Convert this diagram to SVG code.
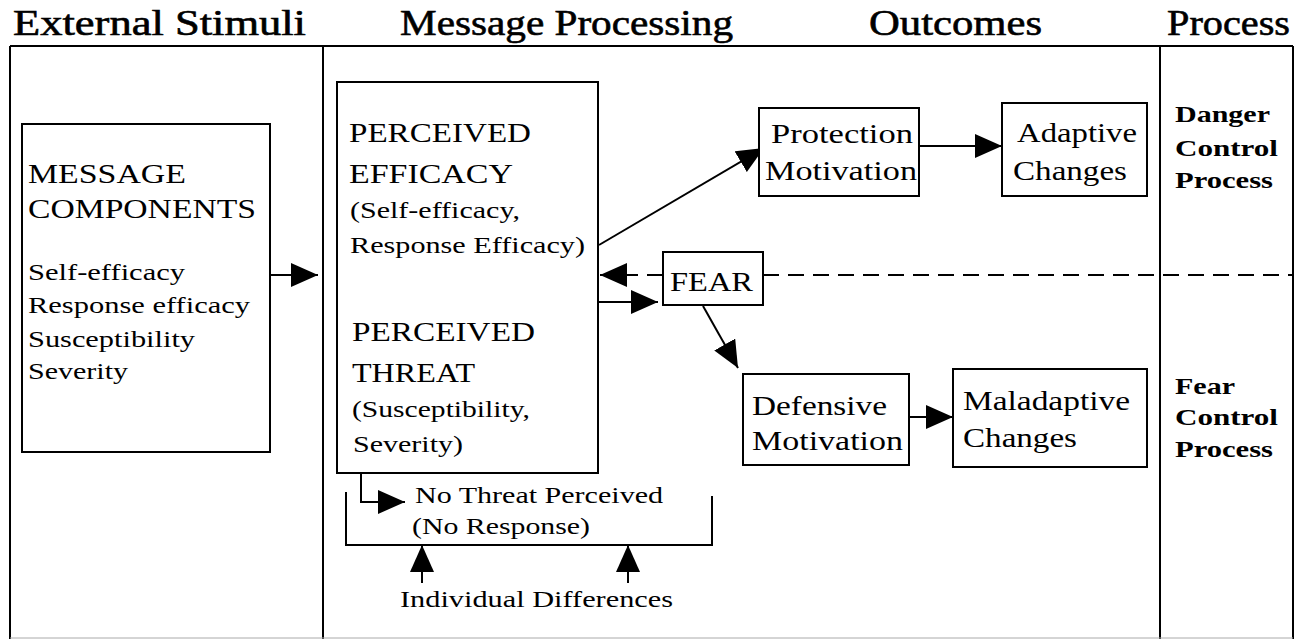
<svg xmlns="http://www.w3.org/2000/svg" width="1300" height="639" viewBox="0 0 1300 639">
<style>
text{font-family:"Liberation Serif","Times New Roman",serif;fill:#000}
.h{font-size:36px;stroke:#000;stroke-width:0.6}
.b{font-size:28px}
.s{font-size:24px}
.m{font-size:27px}
.bd{font-size:24px;font-weight:bold}
.box{fill:#fff;stroke:#000;stroke-width:2}
.fr{stroke:#000;stroke-width:2;fill:none}
.c{stroke:#000;stroke-width:2;fill:none}
.d{stroke:#000;stroke-width:2;fill:none;stroke-dasharray:16 9}
</style>
<defs>
<marker id="ah" markerUnits="userSpaceOnUse" markerWidth="28" markerHeight="24" refX="27" refY="12" orient="auto">
<path d="M0,0 L27,12 L0,24 z" fill="#000"/>
</marker>
</defs>
<rect width="1300" height="639" fill="#fff"/>
<g id="frame">
<path class="fr" d="M10,46 H1293 M10,46 V639 M323,46 V639 M1160,46 V639 M1293,46 V639"/>
<line x1="10" y1="638" x2="1293" y2="638" stroke="#aaa" stroke-width="1"/>
</g>
<g id="headers">
<text class="h" x="13" y="35" textLength="293" lengthAdjust="spacingAndGlyphs">External Stimuli</text>
<text class="h" x="400" y="35" textLength="333" lengthAdjust="spacingAndGlyphs">Message Processing</text>
<text class="h" x="869" y="35" textLength="173" lengthAdjust="spacingAndGlyphs">Outcomes</text>
<text class="h" x="1167" y="35" textLength="123" lengthAdjust="spacingAndGlyphs">Process</text>
</g>
<g id="connectors">
<line class="c" x1="270" y1="275" x2="318" y2="275" marker-end="url(#ah)"/>
<line class="c" x1="599" y1="245" x2="764" y2="148" marker-end="url(#ah)"/>
<line class="c" x1="919" y1="146" x2="1002" y2="146" marker-end="url(#ah)"/>
<line class="d" x1="663" y1="275" x2="600" y2="275" marker-end="url(#ah)"/>
<line class="d" x1="763" y1="275" x2="1293" y2="275"/>
<line class="c" x1="598" y1="302" x2="658" y2="302" marker-end="url(#ah)"/>
<line class="c" x1="703" y1="306" x2="738" y2="368" marker-end="url(#ah)"/>
<line class="c" x1="909" y1="417" x2="953" y2="417" marker-end="url(#ah)"/>
<path class="c" d="M361,473 V502 H405" marker-end="url(#ah)"/>
<path class="c" d="M346,492 V545 H712 V496"/>
<line class="c" x1="422" y1="583" x2="422" y2="545" marker-end="url(#ah)"/>
<line class="c" x1="628" y1="583" x2="628" y2="545" marker-end="url(#ah)"/>
</g>
<g id="message-components">
<rect class="box" x="22" y="124" width="248" height="328"/>
<text class="b" x="28" y="183" textLength="158" lengthAdjust="spacingAndGlyphs">MESSAGE</text>
<text class="b" x="28" y="218" textLength="228" lengthAdjust="spacingAndGlyphs">COMPONENTS</text>
<text class="s" x="28" y="280" textLength="157" lengthAdjust="spacingAndGlyphs">Self-efficacy</text>
<text class="s" x="28" y="313" textLength="222" lengthAdjust="spacingAndGlyphs">Response efficacy</text>
<text class="s" x="28" y="347" textLength="167" lengthAdjust="spacingAndGlyphs">Susceptibility</text>
<text class="s" x="28" y="379" textLength="100" lengthAdjust="spacingAndGlyphs">Severity</text>
</g>
<g id="perceived">
<rect class="box" x="337" y="82" width="261" height="391"/>
<text class="b" x="349" y="142" textLength="182" lengthAdjust="spacingAndGlyphs">PERCEIVED</text>
<text class="b" x="349" y="183" textLength="164" lengthAdjust="spacingAndGlyphs">EFFICACY</text>
<text class="s" x="350" y="218" textLength="170" lengthAdjust="spacingAndGlyphs">(Self-efficacy,</text>
<text class="s" x="350" y="253" textLength="235" lengthAdjust="spacingAndGlyphs">Response Efficacy)</text>
<text class="b" x="352" y="341" textLength="183" lengthAdjust="spacingAndGlyphs">PERCEIVED</text>
<text class="b" x="352" y="382" textLength="123" lengthAdjust="spacingAndGlyphs">THREAT</text>
<text class="s" x="352" y="417" textLength="178" lengthAdjust="spacingAndGlyphs">(Susceptibility,</text>
<text class="s" x="353" y="452" textLength="110" lengthAdjust="spacingAndGlyphs">Severity)</text>
</g>
<g id="protection-motivation">
<rect class="box" x="759" y="108" width="160" height="88"/>
<text class="m" x="771" y="143" textLength="142" lengthAdjust="spacingAndGlyphs">Protection</text>
<text class="m" x="765" y="180" textLength="152" lengthAdjust="spacingAndGlyphs">Motivation</text>
</g>
<g id="adaptive-changes">
<rect class="box" x="1002" y="103" width="145" height="93"/>
<text class="m" x="1017" y="142" textLength="120" lengthAdjust="spacingAndGlyphs">Adaptive</text>
<text class="m" x="1013" y="180" textLength="114" lengthAdjust="spacingAndGlyphs">Changes</text>
</g>
<g id="fear">
<rect class="box" x="663" y="252" width="100" height="53"/>
<text class="b" x="670" y="291" textLength="83" lengthAdjust="spacingAndGlyphs">FEAR</text>
</g>
<g id="defensive-motivation">
<rect class="box" x="743" y="374" width="166" height="91"/>
<text class="m" x="752" y="415" textLength="135" lengthAdjust="spacingAndGlyphs">Defensive</text>
<text class="m" x="752" y="450" textLength="151" lengthAdjust="spacingAndGlyphs">Motivation</text>
</g>
<g id="maladaptive-changes">
<rect class="box" x="953" y="369" width="194" height="98"/>
<text class="m" x="963" y="410" textLength="167" lengthAdjust="spacingAndGlyphs">Maladaptive</text>
<text class="m" x="963" y="447" textLength="114" lengthAdjust="spacingAndGlyphs">Changes</text>
</g>
<g id="danger-control">
<text class="bd" x="1175" y="122" textLength="95" lengthAdjust="spacingAndGlyphs">Danger</text>
<text class="bd" x="1175" y="156" textLength="103" lengthAdjust="spacingAndGlyphs">Control</text>
<text class="bd" x="1175" y="188" textLength="98" lengthAdjust="spacingAndGlyphs">Process</text>
</g>
<g id="fear-control">
<text class="bd" x="1175" y="394" textLength="60" lengthAdjust="spacingAndGlyphs">Fear</text>
<text class="bd" x="1175" y="425" textLength="103" lengthAdjust="spacingAndGlyphs">Control</text>
<text class="bd" x="1175" y="457" textLength="98" lengthAdjust="spacingAndGlyphs">Process</text>
</g>
<g id="no-threat">
<text class="s" x="415" y="503" textLength="248" lengthAdjust="spacingAndGlyphs">No Threat Perceived</text>
<text class="s" x="412" y="534" textLength="178" lengthAdjust="spacingAndGlyphs">(No Response)</text>
</g>
<g id="individual-differences">
<text class="s" x="400" y="607" textLength="273" lengthAdjust="spacingAndGlyphs">Individual Differences</text>
</g>
</svg>
